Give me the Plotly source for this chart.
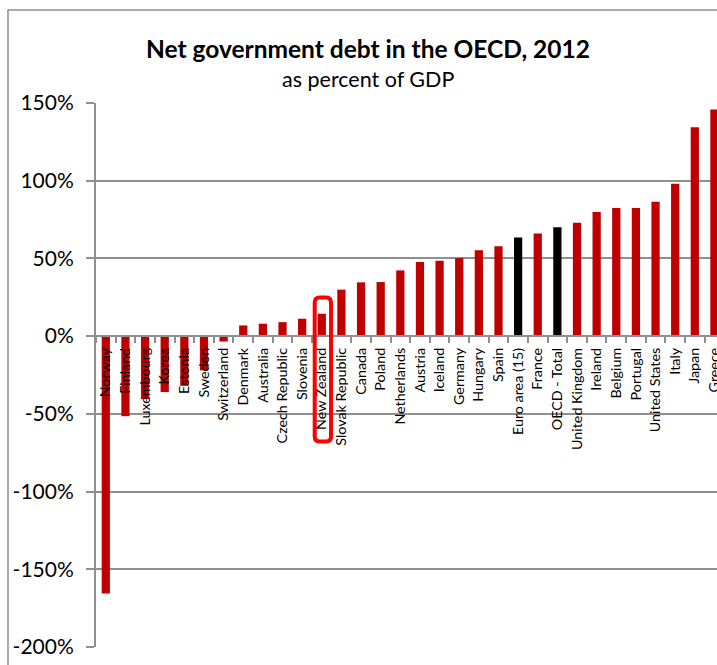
import plotly.graph_objects as go

# Net government debt, 2012 (% of GDP)
countries = [
    "Norway", "Finland", "Luxembourg", "Korea", "Estonia", "Sweden",
    "Switzerland", "Denmark", "Australia", "Czech Republic", "Slovenia",
    "New Zealand", "Slovak Republic", "Canada", "Poland", "Netherlands",
    "Austria", "Iceland", "Germany", "Hungary", "Spain", "Euro area (15)",
    "France", "OECD - Total", "United Kingdom", "Ireland", "Belgium",
    "Portugal", "United States", "Italy", "Japan", "Greece",
]
net_debt = [
    -165.5, -51.5, -40.5, -36.0, -32.0, -22.0,
    -3.5, 6.9, 8.0, 9.0, 11.2,
    14.4, 29.9, 34.6, 34.8, 42.3,
    47.7, 48.5, 50.2, 55.2, 57.9, 63.5,
    66.1, 70.0, 73.0, 79.8, 82.4,
    82.4, 86.5, 98.1, 134.4, 145.8,
]
aggregates = ["Euro area (15)", "OECD - Total"]
highlight = "New Zealand"

y_ticks = [-200, -150, -100, -50, 0, 50, 100, 150]

RED = "#C00000"
GRID = "#8f8f8f"
FONT = "Lato"

idx = list(range(len(countries)))
colors = ["#000000" if c in aggregates else RED for c in countries]

fig = go.Figure(
    go.Bar(
        x=idx,
        y=net_debt,
        width=0.42,
        marker=dict(color=colors, line=dict(width=0)),
        hovertext=countries,
    )
)

y_min, y_max = y_ticks[0], y_ticks[-1]

fig.update_layout(
    width=717,
    height=665,
    margin=dict(l=96, r=0, t=103, b=18),
    paper_bgcolor="white",
    plot_bgcolor="white",
    showlegend=False,
    font=dict(family=FONT, color="#000000"),
    annotations=[
        dict(
            text="<b>Net government debt in the OECD, 2012</b>",
            xref="paper", yref="paper",
            x=(368 - 96) / 621, y=(647 - 48) / 544,
            xanchor="center", yanchor="middle",
            showarrow=False, font=dict(size=24.5, family=FONT),
        ),
        dict(
            text="as percent of GDP",
            xref="paper", yref="paper",
            x=(368 - 96) / 621, y=(647 - 79) / 544,
            xanchor="center", yanchor="middle",
            showarrow=False, font=dict(size=21.5, family=FONT),
        ),
    ],
)

fig.update_xaxes(
    type="linear",
    range=[-0.5, 31.13],
    anchor="free",
    position=(0 - y_min) / (y_max - y_min),
    automargin=False,
    tickmode="array",
    tickvals=idx,
    ticktext=countries,
    tickangle=-90,
    ticks="",
    ticklabelstandoff=5,
    ticklabeloverflow="allow",
    tickfont=dict(size=14.3, family=FONT, color="#000000"),
    showgrid=False,
    zeroline=False,
    showline=True,
    linecolor=GRID,
    linewidth=2,
    minor=dict(
        tickmode="array",
        tickvals=[i + 0.5 for i in range(-1, len(countries))],
        ticks="outside",
        ticklen=6,
        tickwidth=1.5,
        tickcolor=GRID,
        showgrid=False,
    ),
    fixedrange=True,
)

fig.update_yaxes(
    range=[y_min, y_max],
    automargin=False,
    tickmode="array",
    tickvals=y_ticks,
    ticktext=[f"{v}%" for v in y_ticks],
    tickfont=dict(size=21, family=FONT, color="#000000"),
    ticks="outside",
    ticklen=8,
    tickwidth=2,
    tickcolor=GRID,
    ticklabelstandoff=8,
    showgrid=True,
    gridcolor=GRID,
    gridwidth=2,
    zeroline=False,
    showline=True,
    linecolor=GRID,
    linewidth=2,
    fixedrange=True,
)

# Chart-area frame (extends past the right and bottom edges)
fig.add_shape(
    type="rect", xref="paper", yref="paper",
    x0=(8 - 96) / 621, x1=1.2, y0=-0.2, y1=(647 - 10) / 544,
    line=dict(color=GRID, width=1.5), fillcolor="rgba(0,0,0,0)",
    layer="below",
)

# Rounded box around the highlighted country and its label
k = countries.index(highlight)
x0, x1 = k - 0.36, k + 0.47
y0, y1 = -67.8, 24.9
rx, ry = 0.25, 3.2
path = (
    f"M {x0 + rx},{y1} L {x1 - rx},{y1} Q {x1},{y1} {x1},{y1 - ry} "
    f"L {x1},{y0 + ry} Q {x1},{y0} {x1 - rx},{y0} "
    f"L {x0 + rx},{y0} Q {x0},{y0} {x0},{y0 + ry} "
    f"L {x0},{y1 - ry} Q {x0},{y1} {x0 + rx},{y1} Z"
)
fig.add_shape(
    type="path", xref="x", yref="y", path=path,
    line=dict(color="#FF0000", width=4), layer="above",
)

fig.write_html("out.html")
